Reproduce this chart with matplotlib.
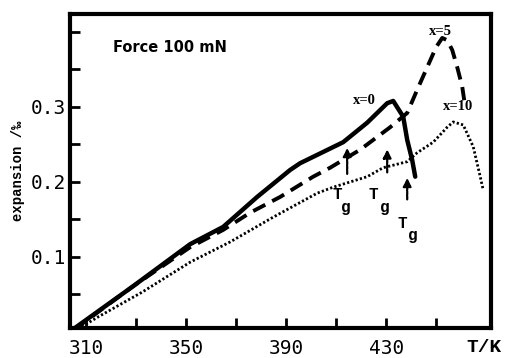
import matplotlib.pyplot as plt
from matplotlib.ticker import FixedLocator

# x = 0 (solid)
T0 = [305.0, 328.4, 351.6, 364.8, 378.4, 391.6, 395.6, 412.8, 422.4, 430.4, 432.8, 436.8, 438.4, 440.4, 441.6]
e0 = [0.004, 0.060, 0.117, 0.140, 0.180, 0.216, 0.225, 0.253, 0.279, 0.305, 0.308, 0.287, 0.256, 0.229, 0.207]

# x = 5 (dashed)
T5 = [305.6, 328.4, 351.6, 364.8, 375.6, 387.6, 400.8, 407.6, 419.6, 431.6, 438.4, 442.4, 446.4, 450.0,
      452.4, 454.4, 456.4, 458.4, 460.4, 461.2]
e5 = [0.004, 0.060, 0.113, 0.136, 0.159, 0.180, 0.207, 0.219, 0.243, 0.273, 0.292, 0.323, 0.353, 0.380,
      0.392, 0.389, 0.376, 0.353, 0.327, 0.309]

# x = 10 (dotted)
T10 = [306.8, 314.8, 332.4, 351.6, 367.6, 384.8, 402.4, 408.8, 422.4, 428.8, 438.4, 442.4, 448.8, 454.4,
       456.8, 460.8, 464.8, 467.6, 468.8]
e10 = [0.004, 0.020, 0.053, 0.093, 0.120, 0.153, 0.185, 0.193, 0.207, 0.219, 0.227, 0.239, 0.253, 0.273,
       0.280, 0.276, 0.247, 0.207, 0.189]

# Tg arrows: (T, tail, head)
tg_T = [414.4, 430.4, 438.4]
tg_tail = [0.207, 0.209, 0.173]
tg_head = [0.249, 0.247, 0.209]

fig = plt.figure(figsize=(5.08, 3.58), dpi=100)
ax = fig.add_axes([0.138, 0.084, 0.829, 0.877])

ax.plot(T0, e0, color='black', lw=3.2, solid_capstyle='round')
ax.plot(T5, e5, color='black', lw=2.8, dashes=(3.5, 2.0))
ax.plot(T10, e10, color='black', lw=2.0, dashes=(0.8, 0.8))

for t, a, b in zip(tg_T, tg_tail, tg_head):
    ax.annotate('', xy=(t, b), xytext=(t, a),
                arrowprops=dict(arrowstyle='-|>', color='black', lw=1.6,
                                mutation_scale=12, linestyle=(0, (1.5, 0.6))))

mono = 'Liberation Mono'
tg_kw = dict(family=mono, fontweight='bold', fontsize=11.5, ha='center', va='center')
ax.text(410.4, 0.183, 'T', **tg_kw)
ax.text(413.8, 0.166, 'g', **tg_kw)
ax.text(424.8, 0.183, 'T', **tg_kw)
ax.text(429.4, 0.166, 'g', **tg_kw)
ax.text(436.4, 0.145, 'T', **tg_kw)
ax.text(440.8, 0.129, 'g', **tg_kw)

lab_kw = dict(family='Liberation Serif', fontweight='bold', fontsize=10.5, ha='center', va='center')
ax.text(421.2, 0.309, 'x=0', **lab_kw)
ax.text(451.6, 0.401, 'x=5', **lab_kw)
ax.text(458.8, 0.300, 'x=10', **lab_kw)

ax.text(320.8, 0.379, 'Force 100 mN', fontsize=10.5, fontweight='bold', ha='left', va='center')

ax.set_xlim(303.6, 472)
ax.set_ylim(0.0053, 0.424)

ax.xaxis.set_major_locator(FixedLocator([310, 350, 390, 430]))
ax.xaxis.set_minor_locator(FixedLocator([330, 370, 410, 450]))
ax.yaxis.set_major_locator(FixedLocator([0.1, 0.2, 0.3]))
ax.yaxis.set_minor_locator(FixedLocator([0.05, 0.15, 0.25, 0.35, 0.4]))
ax.set_yticklabels(['0.1', '0.2', '0.3'])
ax.tick_params(which='both', direction='in', length=7, width=2, top=False, right=False)
ax.tick_params(axis='x', labelsize=14, pad=8)
ax.tick_params(axis='y', labelsize=14, pad=3)
for lab in ax.get_xticklabels() + ax.get_yticklabels():
    lab.set_family('DejaVu Sans Mono')

for s in ax.spines.values():
    s.set_linewidth(3)

ax.set_ylabel('expansion /‰', family=mono, fontweight='bold', fontsize=10, labelpad=4)
fig.text(484 / 508, 1 - 347 / 358, 'T/K', family=mono, fontweight='bold', fontsize=14,
         ha='center', va='center')

fig.savefig('out.png', dpi=100)
